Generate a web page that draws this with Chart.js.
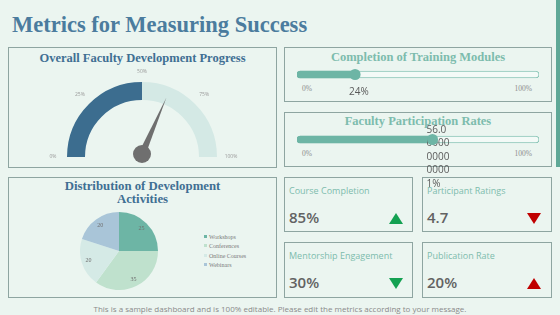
<!DOCTYPE html>
<html lang="en">
<head>
<meta charset="UTF-8">
<title>Metrics for Measuring Success</title>
<script src="https://cdn.jsdelivr.net/npm/chart.js"></script>
<style>
  body {
    margin: 0;
    width: 560px;
    height: 315px;
    background: #ebf5f0;
    position: relative;
    overflow: hidden;
    font-family: 'Open Sans', sans-serif;
  }
  .abs { position: absolute; }
  .panel { position: absolute; border: 1px solid #8ea5a1; box-sizing: border-box; }
  .serif { font-family: 'Liberation Serif', serif; font-weight: bold; }
  #title { left: 12px; top: 12px; font-size: 22.5px; line-height: 26px; color: #4b7c9e; white-space: nowrap; }
  #sidebar { left: 556px; top: 0; width: 4px; height: 167px; background: #5fa897; }
  .ptitle { text-align: center; white-space: nowrap; }
  .blue { color: #3f6f93; }
  .teal { color: #7dbcad; }
  .tick { font-family: 'Liberation Serif', serif; font-size: 7.5px; color: #8c8c8c; line-height: 10px; }
  .card { position: absolute; border: 1px solid #8ea5a1; box-sizing: border-box; }
  .klabel { position: absolute; left: 4px; top: 6px; font-size: 9px; color: #7dbcad; white-space: nowrap; }
  .kval { position: absolute; left: 4px; top: 29px; font-size: 15px; font-weight: 600; color: #626262; line-height: 20px; }
  .tri { position: absolute; width: 0; height: 0; border-left: 7px solid transparent; border-right: 7px solid transparent; }
  .legend-item { position: absolute; font-family: 'Liberation Serif', serif; font-size: 6px; color: #7a7a7a; white-space: nowrap; line-height: 8px; }
  .legend-item span { display: inline-block; width: 3px; height: 3px; margin-right: 2px; vertical-align: 1px; }
  #footer { left: 0; width: 560px; top: 303px; text-align: center; font-size: 8px; color: #8a8a8a; line-height: 11px; }
  canvas { position: absolute; }
</style>
</head>
<body>
  <div id="title" class="abs serif">Metrics for Measuring Success</div>
  <div id="sidebar" class="abs"></div>

  <div class="panel" style="left:8px;top:47px;width:269px;height:121px"></div>
  <div class="panel" style="left:284px;top:47px;width:268px;height:55px"></div>
  <div class="panel" style="left:284px;top:112px;width:268px;height:55px"></div>
  <div class="panel" style="left:8px;top:177px;width:269px;height:121px"></div>

  <div class="abs serif ptitle blue" style="left:8px;top:50px;width:269px;font-size:12.5px;line-height:16px">Overall Faculty Development Progress</div>
  <div class="abs serif ptitle teal" style="left:284px;top:49px;width:268px;font-size:12.5px;line-height:16px">Completion of Training Modules</div>
  <div class="abs serif ptitle teal" style="left:284px;top:113px;width:268px;font-size:12.5px;line-height:16px">Faculty Participation Rates</div>
  <div class="abs serif ptitle blue" style="left:8px;top:180px;width:269px;font-size:12.8px;line-height:13px">Distribution of Development<br>Activities</div>

  <div id="ticks"></div>
  <div id="cards"></div>
  <div id="legend"></div>

  <canvas id="gauge" width="210" height="105" style="left:40px;top:65px"></canvas>
  <canvas id="pie" width="78" height="78" style="left:80px;top:212px"></canvas>
  <canvas id="bar1" width="256" height="90" style="left:290px;top:45px"></canvas>
  <canvas id="bar2" width="256" height="90" style="left:290px;top:110px"></canvas>

  <div id="footer" class="abs">This is a sample dashboard and is 100% editable. Please edit the metrics according to your message.</div>

<script>
  // gauge
  const gaugeValue = 50;
  const needleValue = 63;
  const gaugeTickValues = [0, 25, 50, 75, 100];
  const gaugeTickLabels = ['0%', '25%', '50%', '75%', '100%'];

  // progress bars (fractions)
  const progressValues = [0.24, 0.56];
  const progressTickLabels = ['0%', '100%'];

  // pie
  const pieLabels = ['Workshops', 'Conferences', 'Online Courses', 'Webinars'];
  const pieValues = [25, 35, 20, 20];
  const pieColors = ['#6db5a5', '#bfe1cd', '#d5eae6', '#a9c5d8'];

  // kpi cards
  const kpiLabels = ['Course Completion', 'Participant Ratings', 'Mentorship Engagement', 'Publication Rate'];
  const kpiValues = ['85%', '4.7', '30%', '20%'];
  const kpiTrend = ['up', 'down', 'down', 'up'];
  const kpiColors = ['#14a152', '#c00000', '#14a152', '#c00000'];

  const noInteract = { legend: { display: false }, tooltip: { enabled: false } };

  const gaugeNeedle = {
    id: 'gaugeNeedle',
    afterDatasetsDraw(chart) {
      const arc = chart.getDatasetMeta(0).data[0];
      const { x, y, outerRadius } = arc;
      const ctx = chart.ctx;
      ctx.save();
      ctx.font = '5px "Open Sans"';
      ctx.fillStyle = '#9a9a9a';
      ctx.textAlign = 'center';
      ctx.textBaseline = 'middle';
      gaugeTickValues.forEach((v, i) => {
        const a = Math.PI + Math.PI * v / 100;
        const r = outerRadius + 10 + Math.abs(Math.cos(a)) * 4;
        ctx.fillText(gaugeTickLabels[i], x + Math.cos(a) * r, y + Math.sin(a) * r);
      });
      const a = Math.PI + Math.PI * needleValue / 100;
      const hx = x, hy = y - 3;
      const len = outerRadius * 0.82;
      const w = 3.5;
      ctx.fillStyle = '#6f6f6f';
      ctx.beginPath();
      ctx.moveTo(hx + Math.cos(a) * len, hy + Math.sin(a) * len);
      ctx.lineTo(hx + Math.cos(a + Math.PI / 2) * w, hy + Math.sin(a + Math.PI / 2) * w);
      ctx.lineTo(hx + Math.cos(a - Math.PI / 2) * w, hy + Math.sin(a - Math.PI / 2) * w);
      ctx.closePath();
      ctx.fill();
      ctx.beginPath();
      ctx.arc(hx, hy, 9, 0, Math.PI * 2);
      ctx.fill();
      ctx.restore();
    }
  };

  new Chart(document.getElementById('gauge'), {
    type: 'doughnut',
    data: {
      labels: ['Done', 'Remaining'],
      datasets: [{
        data: [gaugeValue, 100 - gaugeValue],
        backgroundColor: ['#3c6d8f', '#d4e9e5'],
        borderWidth: 0
      }]
    },
    options: {
      responsive: false,
      animation: false,
      rotation: -90,
      circumference: 180,
      cutout: '76%',
      layout: { padding: { left: 27, right: 33, top: 17, bottom: 13 } },
      plugins: noInteract
    },
    plugins: [gaugeNeedle]
  });

  const pieValueLabels = {
    id: 'pieValueLabels',
    afterDatasetsDraw(chart) {
      const ctx = chart.ctx;
      ctx.save();
      ctx.font = '6px "Liberation Serif"';
      ctx.fillStyle = '#6f6f6f';
      ctx.textAlign = 'center';
      ctx.textBaseline = 'middle';
      chart.getDatasetMeta(0).data.forEach((arc, i) => {
        const mid = (arc.startAngle + arc.endAngle) / 2;
        const r = arc.outerRadius * 0.82;
        ctx.fillText(String(pieValues[i]), arc.x + Math.cos(mid) * r, arc.y + Math.sin(mid) * r);
      });
      ctx.restore();
    }
  };

  new Chart(document.getElementById('pie'), {
    type: 'pie',
    data: {
      labels: pieLabels,
      datasets: [{ data: pieValues, backgroundColor: pieColors, borderWidth: 0 }]
    },
    options: {
      responsive: false,
      animation: false,
      layout: { padding: 0 },
      plugins: noInteract
    },
    plugins: [pieValueLabels]
  });

  // legend built from the pie arrays
  const legend = document.getElementById('legend');
  pieLabels.forEach((name, i) => {
    const d = document.createElement('div');
    d.className = 'legend-item';
    d.style.left = '204px';
    d.style.top = (233 + i * 9.3) + 'px';
    d.innerHTML = '<span style="background:' + pieColors[i] + '"></span>' + name;
    legend.appendChild(d);
  });

  const thumbAndLabel = {
    id: 'thumbAndLabel',
    afterDatasetsDraw(chart) {
      const v = chart.data.datasets[0].data[0];
      const bar = chart.getDatasetMeta(0).data[0];
      const x = chart.scales.x.getPixelForValue(v);
      const y = bar.y;
      const ctx = chart.ctx;
      ctx.save();
      ctx.font = '10px "Open Sans"';
      ctx.fillStyle = '#5a5a5a';
      ctx.textBaseline = 'middle';
      // narrow box: long labels wrap per character
      const text = String(v) + '%';
      const lines = [];
      let cur = '';
      for (const ch of text) {
        if (cur && ctx.measureText(cur + ch).width > 24) { lines.push(cur); cur = ch; }
        else cur += ch;
      }
      lines.push(cur);
      const lh = 13.5;
      const cy = y + 17.5 - (lines.length - 1) * lh / 2;
      lines.forEach((l, i) => ctx.fillText(l, x - 6, cy + i * lh));
      ctx.fillStyle = '#6db5a5';
      ctx.beginPath();
      ctx.arc(x, y, 5.5, 0, Math.PI * 2);
      ctx.fill();
      ctx.restore();
    }
  };

  function progressBar(id, frac) {
    return new Chart(document.getElementById(id), {
      type: 'bar',
      data: {
        labels: [''],
        datasets: [
          { data: [frac * 100], backgroundColor: '#6db5a5', borderRadius: 4, borderSkipped: false, barThickness: 7, grouped: false },
          { data: [100], backgroundColor: '#f3faf7', borderColor: '#8cc6b8', borderWidth: 1, borderRadius: 4, borderSkipped: false, barThickness: 7, grouped: false }
        ]
      },
      options: {
        indexAxis: 'y',
        responsive: false,
        animation: false,
        layout: { padding: { left: 7, right: 7, top: 0, bottom: 31 } },
        scales: {
          x: { display: false, min: 0, max: 100 },
          y: { display: false }
        },
        plugins: noInteract
      },
      plugins: [thumbAndLabel]
    });
  }
  progressBar('bar1', progressValues[0]);
  progressBar('bar2', progressValues[1]);

  // 0% / 100% labels under each bar
  const ticks = document.getElementById('ticks');
  [84, 149].forEach(top => {
    progressTickLabels.forEach((t, i) => {
      const d = document.createElement('div');
      d.className = 'abs tick';
      d.style.top = top + 'px';
      if (i === 0) d.style.left = '302px';
      else { d.style.left = '480px'; d.style.width = '52px'; d.style.textAlign = 'right'; }
      d.textContent = t;
      ticks.appendChild(d);
    });
  });

  // kpi cards
  const cardPos = [[284, 177, 129, 55], [422, 177, 130, 55], [284, 242, 129, 56], [422, 242, 130, 56]];
  const cards = document.getElementById('cards');
  kpiLabels.forEach((name, i) => {
    const [l, t, w, h] = cardPos[i];
    const c = document.createElement('div');
    c.className = 'card';
    c.style.cssText = 'left:' + l + 'px;top:' + t + 'px;width:' + w + 'px;height:' + h + 'px';
    const tri = kpiTrend[i] === 'up'
      ? 'border-bottom:11px solid ' + kpiColors[i]
      : 'border-top:11px solid ' + kpiColors[i];
    c.innerHTML = '<div class="klabel">' + name + '</div>' +
      '<div class="kval">' + kpiValues[i] + '</div>' +
      '<div class="tri" style="left:104px;top:35px;' + tri + '"></div>';
    cards.appendChild(c);
  });
</script>
</body>
</html>
